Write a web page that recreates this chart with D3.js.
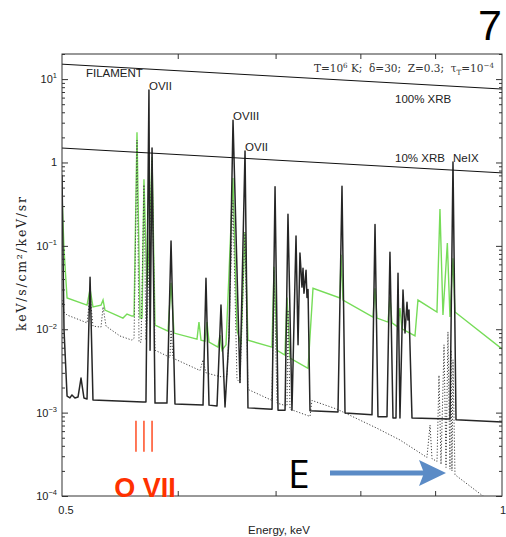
<!DOCTYPE html>
<html>
<head>
<meta charset="utf-8">
<script src="https://cdn.jsdelivr.net/npm/d3@7"></script>
<style>
  body { margin: 0; background: #fff; }
  text { fill: #222; }
</style>
</head>
<body>
<div id="chart"></div>
<script>

// ---- data (energy keV, flux keV/s/cm2/keV/sr) ----

// XRB reference levels
var xrb100 = [[0.5, 15.1], [1.0, 7.6]];
var xrb10 = [[0.5, 1.49], [1.0, 0.75]];

// filament emission, black solid
var blackSpectrum = [
  [0.5000, 0.71], [0.5016, 0.0098], [0.5040, 0.00158], [0.5063, 0.00150], [0.5079, 0.00163],
  [0.5103, 0.00150], [0.5128, 0.00154], [0.5152, 0.0026], [0.5176, 0.00150], [0.5201, 0.00146],
  [0.5226, 0.042], [0.5250, 0.00142], [0.5681, 0.00134], [0.5707, 0.00134], [0.5734, 7.4],
  [0.5744, 0.0056], [0.5762, 1.49], [0.5789, 0.00130], [0.5899, 0.00130], [0.5937, 0.114],
  [0.5974, 0.00127], [0.6244, 0.00123], [0.6273, 0.041], [0.6303, 0.00123], [0.6383, 0.00120],
  [0.6423, 0.0195], [0.6464, 0.00117], [0.6505, 0.0081], [0.6546, 3.2], [0.6618, 0.0023],
  [0.6671, 1.37], [0.6702, 0.00114], [0.6961, 0.00110], [0.6994, 0.51], [0.7027, 0.00107],
  [0.7105, 0.00107], [0.7138, 0.24], [0.7183, 0.00107], [0.7229, 0.131], [0.7252, 0.0065],
  [0.7274, 0.082], [0.7297, 0.032], [0.7309, 0.054], [0.7320, 0.027], [0.7344, 0.051],
  [0.7355, 0.024], [0.7367, 0.030], [0.7390, 0.00105], [0.7723, 0.00102], [0.7772, 0.52],
  [0.7809, 0.00099], [0.8148, 0.00094], [0.8187, 0.18], [0.8225, 0.00089], [0.8343, 0.00089],
  [0.8382, 0.084], [0.8422, 0.00086], [0.8462, 0.00086], [0.8489, 0.047], [0.8515, 0.00086],
  [0.8556, 0.0295], [0.8583, 0.0090], [0.8610, 0.021], [0.8623, 0.0129], [0.8637, 0.017],
  [0.8678, 0.00086], [0.9213, 0.00084], [0.9257, 1.01], [0.9301, 0.00082], [1.0000, 0.00077]
];

// green solid spectrum
var greenSpectrum = [
  [0.5000, 0.41], [0.5016, 0.089], [0.5040, 0.0237], [0.5201, 0.0195], [0.5226, 0.0303],
  [0.5250, 0.0185], [0.5317, 0.0195], [0.5334, 0.0224], [0.5350, 0.0170], [0.5504, 0.0136],
  [0.5539, 0.0152], [0.5583, 0.0144], [0.5601, 0.0144], [0.5627, 2.3], [0.5654, 0.0136],
  [0.5672, 0.0136], [0.5689, 0.63], [0.5716, 0.032], [0.5734, 0.089], [0.5762, 1.16],
  [0.5789, 0.0112], [0.5909, 0.0095], [0.5937, 0.036], [0.5965, 0.0090], [0.6185, 0.0076],
  [0.6204, 0.0122], [0.6224, 0.0074], [0.6263, 0.0072], [0.6283, 0.0122], [0.6303, 0.0070],
  [0.6393, 0.0061], [0.6413, 0.0085], [0.6433, 0.0056], [0.6474, 0.0065], [0.6504, 0.045],
  [0.6545, 0.65], [0.6587, 0.0098], [0.6629, 0.0065], [0.6670, 0.146], [0.6702, 0.0074],
  [0.6960, 0.0061], [0.6983, 0.056], [0.7016, 0.0056], [0.7104, 0.0049], [0.7127, 0.024],
  [0.7161, 0.0045], [0.7367, 0.0034], [0.7425, 0.031], [0.7747, 0.0237], [0.7760, 0.078],
  [0.7784, 0.0224], [0.8161, 0.0140], [0.8187, 0.031], [0.8212, 0.0136], [0.8356, 0.0122],
  [0.8382, 0.0243], [0.8409, 0.0119], [0.8489, 0.0106], [0.8515, 0.0180], [0.8542, 0.0101],
  [0.8719, 0.0083], [0.8760, 0.0224], [0.9026, 0.0161], [0.9069, 0.276], [0.9112, 0.0148],
  [0.9175, 0.108], [0.9213, 0.0140], [0.9257, 0.071], [0.9286, 0.0161], [1.0000, 0.0058]
];

// dotted spectrum
var dottedSpectrum = [
  [0.5000, 0.0224], [0.5016, 0.0161], [0.5040, 0.0148], [0.5144, 0.0129], [0.5201, 0.0119],
  [0.5226, 0.0257], [0.5250, 0.0109], [0.5317, 0.0106], [0.5334, 0.0185], [0.5359, 0.0109],
  [0.5478, 0.0083], [0.5583, 0.0074], [0.5601, 0.0078], [0.5627, 1.86], [0.5645, 0.0070],
  [0.5663, 0.0070], [0.5689, 0.54], [0.5707, 0.0074], [0.5725, 0.0224], [0.5762, 1.07],
  [0.5789, 0.0056], [0.5927, 0.0046], [0.5937, 0.0098], [0.5955, 0.0045], [0.6214, 0.0032],
  [0.6244, 0.0043], [0.6273, 0.0030], [0.6413, 0.0027], [0.6484, 0.0027], [0.6504, 0.0085],
  [0.6545, 0.35], [0.6587, 0.0025], [0.6618, 0.0023], [0.6670, 0.146], [0.6702, 0.0019],
  [0.6960, 0.0014], [0.6983, 0.051], [0.7016, 0.0013], [0.7127, 0.0012], [0.7138, 0.017],
  [0.7161, 0.0011], [0.7390, 0.0009], [0.7413, 0.0014], [0.7711, 0.0011], [0.8212, 0.00065],
  [0.8515, 0.00047], [0.8885, 0.00029], [0.8928, 0.00071], [0.8956, 0.00028], [0.9027, 0.00026],
  [0.9055, 0.0028], [0.9084, 0.00024], [0.9127, 0.0065], [0.9156, 0.00022], [0.9184, 0.0093],
  [0.9213, 0.00021], [0.9228, 0.0056], [0.9242, 0.00020], [0.9257, 0.0043], [0.9286, 0.00018],
  [0.9705, 0.00010], [1.0000, 0.000072]
];

// line identifications (placed at the peak tops)
var lineLabels = [["OVII", 0.5734, 7.4], ["OVIII", 0.6546, 3.2], ["OVII", 0.6671, 1.37], ["NeIX", 0.9257, 1.01]];
var levelLabels = [["FILAMENT", 0.5192, 10.6], ["100% XRB", 0.8449, 5.15], ["10% XRB", 0.8449, 1.01]];

// O VII triplet markers
var oviiTriplet = [0.5618, 0.5689, 0.5762];
var oviiMarkRange = [3.4e-4, 8.0e-4];

var xTickValues = [0.6, 0.7, 0.8, 0.9];
var xTickLabels = [0.5, 1];

// ---- chart ----
var sans = "'Liberation Sans', Arial, sans-serif";
var serif = "'DejaVu Serif', 'Liberation Serif', serif";

var margin = {left: 62, right: 4, top: 54, bottom: 41};
var width = 506 - margin.left - margin.right,
    height = 537 - margin.top - margin.bottom;

var svg = d3.select("#chart")
  .append("svg")
    .attr("width", 506)
    .attr("height", 537)
    .style("font-family", sans);

var chartGroup = svg.append("g")
    .attr("transform", `translate(${margin.left}, ${margin.top})`);

var x = d3.scaleLog().domain([0.5, 1]).range([0, width]);
var y = d3.scaleLog().domain([1e-4, 20]).range([height, 0]);

chartGroup.append("clipPath")
    .attr("id", "plotClip")
  .append("rect")
    .attr("width", width)
    .attr("height", height);

var line = d3.line()
    .x(d => x(d[0]))
    .y(d => y(d[1]));

var plot = chartGroup.append("g").attr("clip-path", "url(#plotClip)");

plot.append("path").datum(greenSpectrum)
    .attr("d", line)
    .attr("fill", "none")
    .attr("stroke", "#76dc58")
    .attr("stroke-width", 1.4);

plot.append("path").datum(dottedSpectrum)
    .attr("d", line)
    .attr("fill", "none")
    .attr("stroke", "#444")
    .attr("stroke-width", 1)
    .attr("stroke-dasharray", "1.2,1.8");

plot.append("path").datum(blackSpectrum)
    .attr("d", line)
    .attr("fill", "none")
    .attr("stroke", "#262626")
    .attr("stroke-width", 1.5)
    .attr("stroke-linejoin", "round");

[xrb100, xrb10].forEach(function(level) {
  plot.append("path").datum(level)
      .attr("d", line)
      .attr("fill", "none")
      .attr("stroke", "#111")
      .attr("stroke-width", 1);
});

// axes: ticks point inwards on all four sides
var yTicks = y.ticks();
var isDecade = d => Math.abs(Math.log10(d) - Math.round(Math.log10(d))) < 1e-9;
var majorY = yTicks.filter(isDecade);
var minorY = yTicks.filter(d => !isDecade(d));

function inwardAxis(axis, size, transform) {
  chartGroup.append("g")
      .attr("transform", transform || null)
      .call(axis.tickSize(-size).tickFormat(""))
      .call(g => g.select(".domain").remove())
      .call(g => g.selectAll("line").attr("stroke", "#333"));
}

inwardAxis(d3.axisLeft(y).tickValues(majorY), 6);
inwardAxis(d3.axisLeft(y).tickValues(minorY), 3);
inwardAxis(d3.axisRight(y).tickValues(majorY), 6, `translate(${width},0)`);
inwardAxis(d3.axisRight(y).tickValues(minorY), 3, `translate(${width},0)`);
inwardAxis(d3.axisBottom(x).tickValues(xTickValues), 5, `translate(0,${height})`);
inwardAxis(d3.axisTop(x).tickValues(xTickValues), 5);

chartGroup.append("rect")
    .attr("width", width)
    .attr("height", height)
    .attr("fill", "none")
    .attr("stroke", "#333")
    .attr("stroke-width", 1);

// text with super/subscripts
function addParts(textSel, parts, size) {
  var shift = 0;
  parts.forEach(function(p) {
    var target = p[1] === "sup" ? -0.42 * size : p[1] === "sub" ? 0.3 * size : 0;
    textSel.append("tspan")
        .attr("dy", target - shift)
        .style("font-size", (p[1] ? size * 0.68 : size) + "px")
        .text(p[0]);
    shift = target;
  });
}

// y tick labels
majorY.forEach(function(v) {
  var p = Math.round(Math.log10(v));
  var t = chartGroup.append("text")
      .attr("x", -5)
      .attr("y", y(v) + 4)
      .attr("text-anchor", "end")
      .style("font-size", "11px");
  if (p === 0) addParts(t, [["1"]], 11);
  else addParts(t, [["10"], [p < 0 ? "\u2212" + (-p) : String(p), "sup"]], 11);
});

// x tick labels
xTickLabels.forEach(function(v) {
  chartGroup.append("text")
      .attr("x", x(v) + (v === 0.5 ? 4 : 1))
      .attr("y", height + 18)
      .attr("text-anchor", "middle")
      .style("font-size", "11px")
      .text(v);
});

chartGroup.append("text")
    .attr("x", 217)
    .attr("y", height + 38)
    .attr("text-anchor", "middle")
    .style("font-size", "11.5px")
    .text("Energy, keV");

chartGroup.append("text")
    .attr("transform", `translate(-36, 210) rotate(-90)`)
    .attr("text-anchor", "middle")
    .style("font-family", serif)
    .style("font-size", "12.5px")
    .attr("textLength", 134)
    .attr("lengthAdjust", "spacing")
    .text("keV/s/cm\u00b2/keV/sr");

// model parameters
var params = chartGroup.append("text")
    .attr("x", width - 8)
    .attr("y", 18)
    .attr("text-anchor", "end")
    .style("font-family", serif)
    .style("font-size", "10.5px")
    .style("white-space", "pre")
    .style("fill", "#333");
addParts(params, [["T=10"], ["6", "sup"], [" K;  \u03b4=30;  Z=0.3;  \u03c4"], ["T", "sub"],
                  ["=10"], ["\u22124", "sup"]], 10.5);

lineLabels.concat(levelLabels).forEach(function(l) {
  chartGroup.append("text")
      .attr("x", x(l[1]))
      .attr("y", y(l[2]))
      .style("font-size", "11.5px")
      .text(l[0]);
});

// O VII triplet markers
chartGroup.selectAll(".ovii")
    .data(oviiTriplet)
    .enter()
    .append("line")
    .attr("x1", d => x(d))
    .attr("x2", d => x(d))
    .attr("y1", y(oviiMarkRange[0]))
    .attr("y2", y(oviiMarkRange[1]))
    .attr("stroke", "#ff3100")
    .attr("stroke-width", 1.3);

chartGroup.append("text")
    .attr("x", x(oviiTriplet[1]) + 1)
    .attr("y", height + 1)
    .attr("text-anchor", "middle")
    .style("font-size", "27px")
    .style("font-weight", "bold")
    .style("fill", "#ff3100")
    .text("O VII");

// "E" arrow overlay
svg.append("text")
    .attr("x", 288)
    .attr("y", 488)
    .style("font-family", "'Open Sans', sans-serif")
    .style("font-size", "39px")
    .style("fill", "#000")
    .text("E");

svg.append("line")
    .attr("x1", 330).attr("y1", 473)
    .attr("x2", 425).attr("y2", 473)
    .attr("stroke", "#5b8bc6")
    .attr("stroke-width", 5);

svg.append("path")
    .attr("d", "M419,460 L446,473 L419,486 L424,473 Z")
    .attr("fill", "#5b8bc6");

// panel number
svg.append("text")
    .attr("x", 490)
    .attr("y", 40)
    .attr("text-anchor", "middle")
    .style("font-size", "43px")
    .style("fill", "#000")
    .text("7");

</script>
</body>
</html>
